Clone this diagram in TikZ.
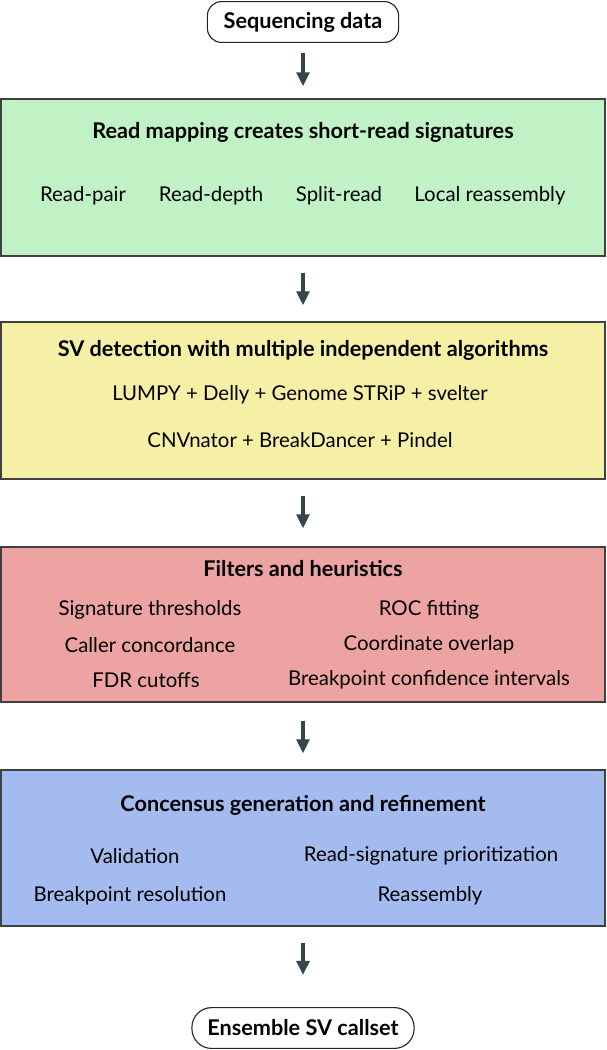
\documentclass[tikz,border=0pt]{standalone}
\usepackage{fontspec}
\setmainfont{Lato}
\usetikzlibrary{positioning,arrows.meta}

\definecolor{mapgreen}{HTML}{C0F2C6}
\definecolor{detectyellow}{HTML}{F6EFA6}
\definecolor{filterred}{HTML}{EDA3A2}
\definecolor{consblue}{HTML}{A3BBEF}
\definecolor{arrowgray}{HTML}{36444C}

\newcommand{\flowfont}{\fontsize{14.5}{17}\selectfont}
\newcommand{\headfont}{\fontsize{15.4}{18}\selectfont\bfseries}

\begin{document}
\begin{tikzpicture}[x=0.025cm, y=-0.025cm,
        terminal/.style={draw=black!85, line width=0.8pt, fill=white, font=\headfont, minimum height=29pt, inner xsep=9pt},
        stage/.style={draw=black!75, line width=0.9pt, minimum width=15.1cm, inner sep=0pt},
        heading/.style={font=\headfont},
        item/.style={inner sep=1pt},
        flow/.style={-{Triangle[length=10pt,width=9pt]}, line width=2.8pt, draw=arrowgray},
        every node/.style={font=\flowfont}
        ]
    \useasboundingbox (0,0) rectangle (606,1050);

    % start and end of the pipeline
    \node[terminal, rounded corners=10pt, minimum width=136pt] (seq) at (303,22) {Sequencing data};
    \node[terminal, rounded corners=14pt, minimum width=158pt] (callset) at (303,1028) {Ensemble SV callset};

    % the four stages
    \foreach \name/\top/\bot/\col in {map/99/256/mapgreen, detect/322/479/detectyellow,
            filter/547/702/filterred, cons/770/926/consblue} {
        \pgfmathsetmacro{\ymid}{(\top+\bot)/2}
        \pgfmathsetmacro{\boxh}{(\bot-\top)*0.025}
        \node[stage, fill=\col, minimum height=\boxh cm] (\name) at (303,\ymid) {};
    }

    % read mapping
    \node[heading] (mapT) at (303,132) {Read mapping creates short-read signatures};
    \node[item] (pair) at (83,196) {Read-pair};
    \node[item] (depth) at (211,196) {Read-depth};
    \node[item] (split) at (339,196) {Split-read};
    \node[item] (local) at (490,196) {Local reassembly};

    % callers
    \node[heading] (detectT) at (303,350) {SV detection with multiple independent algorithms};
    \node[item] (callersA) at (300,395) {LUMPY + Delly + Genome STRiP + svelter};
    \node[item] (callersB) at (300,440) {CNVnator + BreakDancer + Pindel};

    % filters
    \node[heading] (filterT) at (303,569) {Filters and heuristics};
    \node[item] (sigthr) at (150,610) {Signature thresholds};
    \node[item] (roc) at (429,610) {ROC fitting};
    \node[item] (concord) at (150,645) {Caller concordance};
    \node[item] (overlap) at (429,645) {Coordinate overlap};
    \node[item] (fdr) at (146,680) {FDR cutoffs};
    \node[item] (ci) at (429,680) {Breakpoint confidence intervals};

    % consensus
    \node[heading] (consT) at (303,805) {Concensus generation and refinement};
    \node[item] (valid) at (135,856) {Validation};
    \node[item] (prior) at (431,856) {Read-signature prioritization};
    \node[item] (bpres) at (130,896) {Breakpoint resolution};
    \node[item] (reasm) at (430,896) {Reassembly};

    % arrows between the steps
    \foreach \a/\b/\s/\e in {seq/map/0.25/0.3, map/detect/0.4/0.4, detect/filter/0.4/0.45,
            filter/cons/0.45/0.4, cons/callset/0.4/0.8} {
        \draw[flow, shorten <=\s cm, shorten >=\e cm] (\a.south) -- (\b.north);
    }
\end{tikzpicture}
\end{document}
